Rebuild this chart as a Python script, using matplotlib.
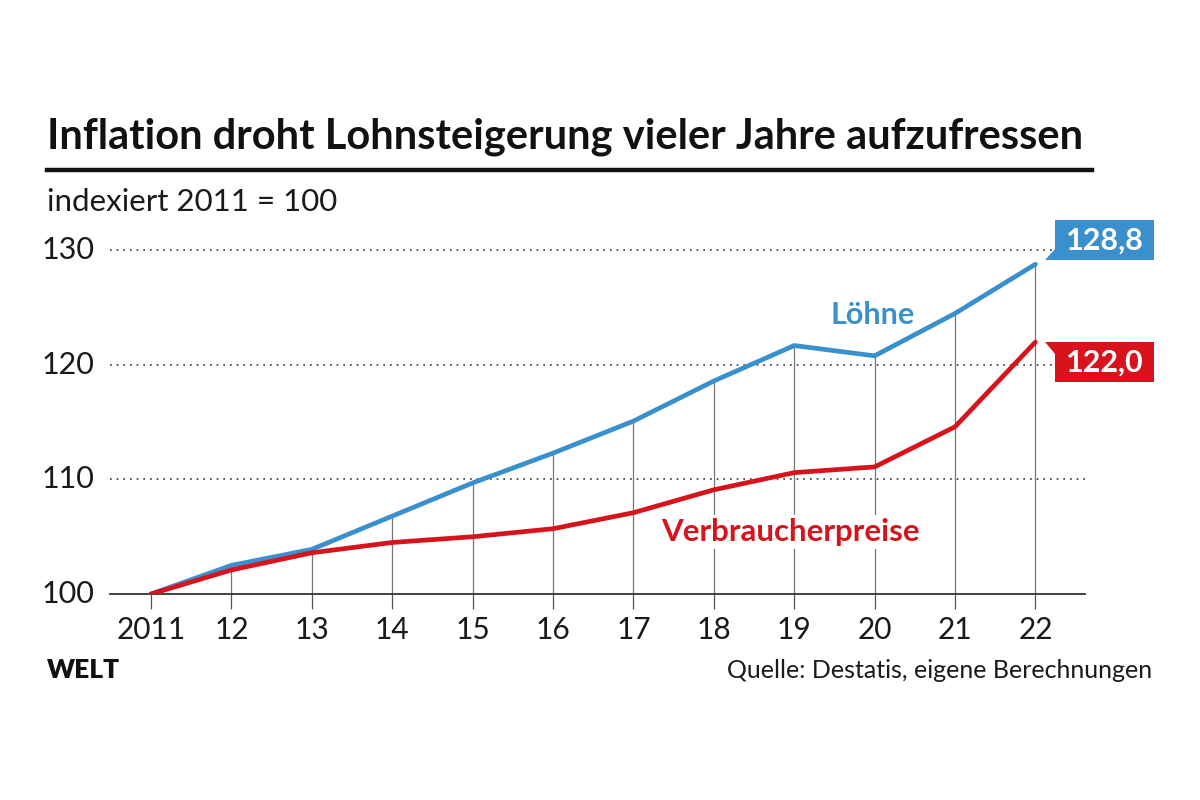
import matplotlib.pyplot as plt
from matplotlib.patches import Rectangle, Polygon

years = [2011, 2012, 2013, 2014, 2015, 2016, 2017, 2018, 2019, 2020, 2021, 2022]
year_labels = ['2011', '12', '13', '14', '15', '16', '17', '18', '19', '20', '21', '22']
loehne = [100, 102.5, 103.9, 106.8, 109.7, 112.3, 115.1, 118.6, 121.7, 120.8, 124.5, 128.8]
preise = [100, 102.1, 103.6, 104.5, 105.0, 105.7, 107.1, 109.1, 110.6, 111.1, 114.6, 122.0]
y_ticks = [100, 110, 120, 130]

BLUE = '#3a8fcd'
RED = '#d7141c'
FONT = 'Lato'
TXT = '#1a1a1a'

plt.rcParams['font.family'] = [FONT, 'DejaVu Sans']

fig = plt.figure(figsize=(12, 8), dpi=100)
fig.patch.set_facecolor('white')

# title block
fig.text(47/1200, 1-137/800, 'Inflation droht Lohnsteigerung vieler Jahre aufzufressen',
         fontsize=30, fontweight='bold', va='center', ha='left', color='#111111')
fig.add_artist(plt.Line2D([47/1200, 1092/1200], [1-170/800, 1-170/800], color='#111111', lw=3.2))
fig.text(47/1200, 1-202/800, 'indexiert 2011 = 100', fontsize=22.5, fontweight='normal',
         va='center', ha='left', color=TXT)

ax = fig.add_axes([110/1200, 1-594/800, 975/1200, 374/800])
x0 = years[0] - 41/80.4
x1 = years[0] + 934/80.4
ax.set_xlim(x0, x1)
ax.set_ylim(100, 100 + 374/11.45)

for s in ['top', 'right', 'left']:
    ax.spines[s].set_visible(False)
ax.spines['bottom'].set_color('#333333')
ax.spines['bottom'].set_linewidth(1.3)

# dotted grid
for v in y_ticks[1:]:
    ax.plot([x0, x1], [v, v], linestyle=(0, (1, 3)), color='#333333', lw=1.2, zorder=1)
for v in y_ticks:
    ax.text(x0 - 0.19, v, str(v), ha='right', va='center', fontsize=22,
            fontweight='normal', color=TXT, clip_on=False)
ax.set_yticks([])

# vertical lines from axis up to wages line
ax.vlines(years[1:], 100, loehne[1:], color='#777777', lw=0.9, zorder=1)

ax.set_xticks(years)
ax.set_xticklabels(year_labels, fontsize=21.5, fontweight='normal', color=TXT)
ax.tick_params(axis='x', length=11, width=0.9, color='#555555', pad=5)

ax.plot(years, loehne, color=BLUE, lw=3.4, zorder=3, solid_capstyle='round')
ax.plot(years, preise, color=RED, lw=3.4, zorder=4, solid_capstyle='round')

ax.text(2019.98, 124.4, 'Löhne', color=BLUE, fontsize=22, fontweight='bold',
        ha='center', va='center', zorder=5)
ax.text(2018.95, 105.4, 'Verbraucherpreise', color=RED, fontsize=22.5, fontweight='bold',
        ha='center', va='center', zorder=5,
        bbox=dict(facecolor='white', edgecolor='none', pad=2))

# end value flags
bw = 99/80.4
bh = 40/11.45
gap = 20/80.4
tip = 10/80.4
lx = years[-1]
bl = loehne[-1] + 0.35
ax.add_patch(Rectangle((lx + gap, bl), bw, bh, facecolor=BLUE, edgecolor='none',
                       clip_on=False, zorder=6))
ax.add_patch(Polygon([(lx + gap - tip, bl), (lx + gap + 0.01, bl), (lx + gap + 0.01, bl + 1.1)],
                     closed=True, facecolor=BLUE, edgecolor='none', clip_on=False, zorder=6))
ax.text(lx + gap + bw/2, bl + bh/2, f'{loehne[-1]:.1f}'.replace('.', ','), color='white',
        fontsize=22, fontweight='bold', ha='center', va='center', clip_on=False, zorder=7)

rt = preise[-1]
ax.add_patch(Rectangle((lx + gap, rt - bh), bw, bh, facecolor=RED, edgecolor='none',
                       clip_on=False, zorder=6))
ax.add_patch(Polygon([(lx + gap - tip, rt), (lx + gap + 0.01, rt), (lx + gap + 0.01, rt - 1.1)],
                     closed=True, facecolor=RED, edgecolor='none', clip_on=False, zorder=6))
ax.text(lx + gap + bw/2, rt - bh/2, f'{preise[-1]:.1f}'.replace('.', ','), color='white',
        fontsize=22, fontweight='bold', ha='center', va='center', clip_on=False, zorder=7)

# footer
fig.text(47/1200, 1-670/800, 'WELT', fontsize=19, fontweight='heavy', color='#111111',
         va='center', ha='left')
fig.text(1152/1200, 1-671/800, 'Quelle: Destatis, eigene Berechnungen', fontsize=18,
         fontweight='normal', color=TXT, va='center', ha='right')

fig.savefig('out.png', dpi=100, facecolor='white')
